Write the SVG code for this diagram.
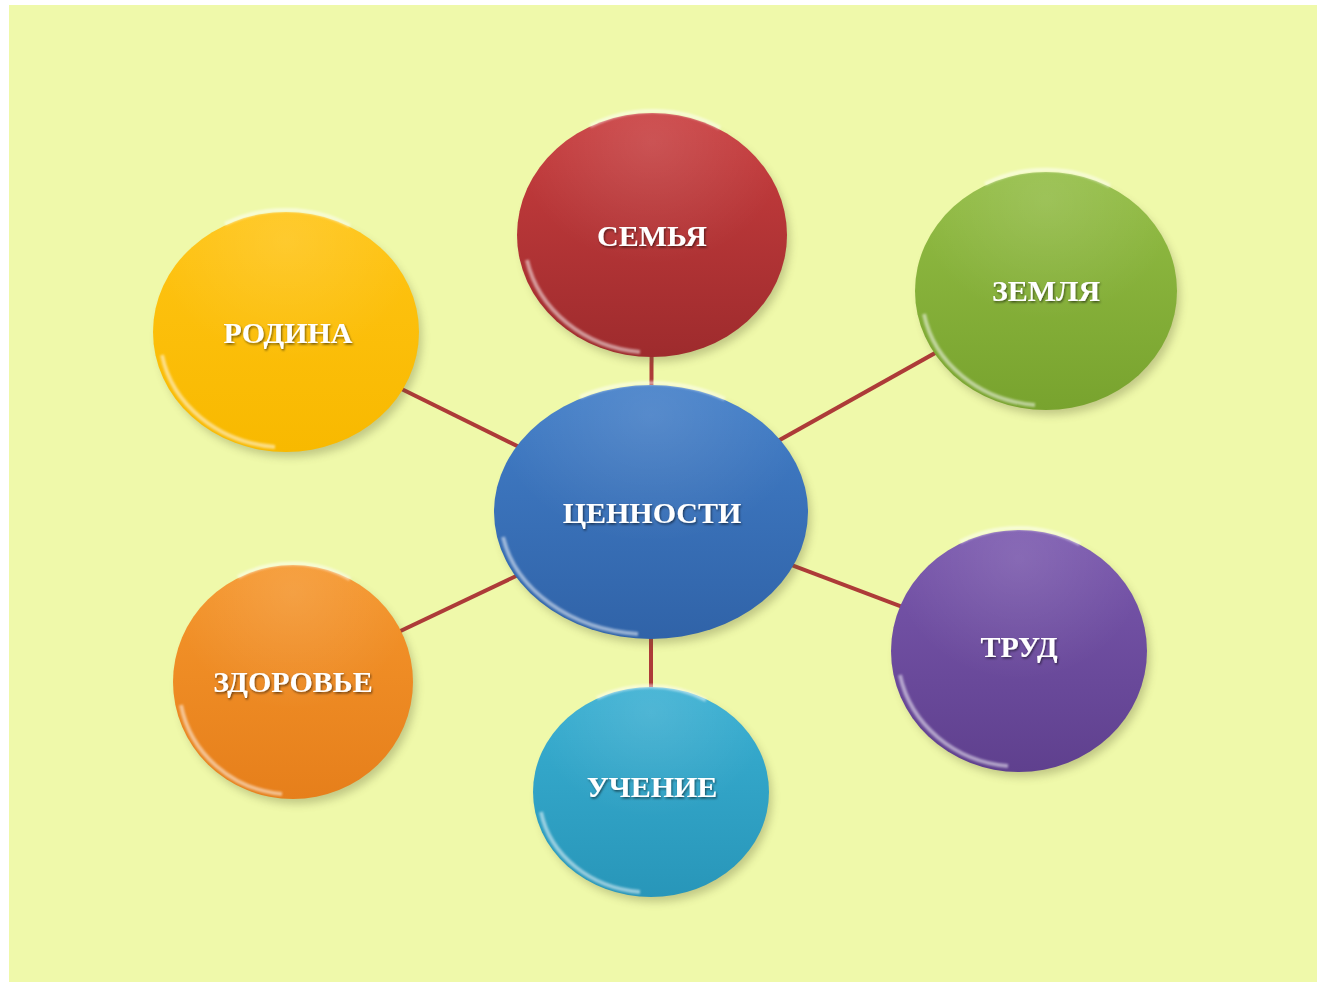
<svg xmlns="http://www.w3.org/2000/svg" width="1317" height="982" viewBox="0 0 1317 982">
<defs>
<style>
.lbl{font-family:"Liberation Serif","DejaVu Serif",serif;font-weight:bold;font-size:30px;fill:#ffffff;text-anchor:middle;filter:url(#ts)}
.conn{stroke:#ad3b38;stroke-width:4;fill:none}
.rim{fill:none;stroke:#ffffff;stroke-opacity:0.5;stroke-width:4;filter:url(#soft)}
.shade{fill:#5a5a30;opacity:0.3;filter:url(#blur)}
</style>
<filter id="blur" x="-20%" y="-20%" width="140%" height="140%"><feGaussianBlur stdDeviation="4"/></filter>
<filter id="soft" x="-20%" y="-20%" width="140%" height="140%"><feGaussianBlur stdDeviation="1.2"/></filter>
<filter id="ts" x="-10%" y="-30%" width="120%" height="160%"><feDropShadow dx="1" dy="1.5" stdDeviation="1" flood-color="#000" flood-opacity="0.55"/></filter>
<linearGradient id="gRed" x1="0" y1="0" x2="0" y2="1"><stop offset="0" stop-color="#c93e3f"/><stop offset="1" stop-color="#9e2b2d"/></linearGradient>
<linearGradient id="gYel" x1="0" y1="0" x2="0" y2="1"><stop offset="0" stop-color="#ffc414"/><stop offset="1" stop-color="#f8b900"/></linearGradient>
<linearGradient id="gGrn" x1="0" y1="0" x2="0" y2="1"><stop offset="0" stop-color="#93bd45"/><stop offset="1" stop-color="#78a32e"/></linearGradient>
<linearGradient id="gBlu" x1="0" y1="0" x2="0" y2="1"><stop offset="0" stop-color="#427ec8"/><stop offset="1" stop-color="#3063a8"/></linearGradient>
<linearGradient id="gPur" x1="0" y1="0" x2="0" y2="1"><stop offset="0" stop-color="#7a58ae"/><stop offset="1" stop-color="#5f408e"/></linearGradient>
<linearGradient id="gOrg" x1="0" y1="0" x2="0" y2="1"><stop offset="0" stop-color="#f5962c"/><stop offset="1" stop-color="#e67f1b"/></linearGradient>
<linearGradient id="gCya" x1="0" y1="0" x2="0" y2="1"><stop offset="0" stop-color="#39afd2"/><stop offset="1" stop-color="#2896b9"/></linearGradient>
<radialGradient id="gloss" cx="0.5" cy="0.12" r="0.5"><stop offset="0" stop-color="#ffffff" stop-opacity="0.12"/><stop offset="1" stop-color="#ffffff" stop-opacity="0"/></radialGradient>
</defs>
<rect x="0" y="0" width="1317" height="982" fill="#ffffff"/>
<rect x="9" y="5" width="1308" height="977" fill="#eff9aa"/>
<g id="connectors">
<line class="conn" x1="651" y1="512" x2="652" y2="235"/>
<line class="conn" x1="651" y1="512" x2="1046" y2="291"/>
<line class="conn" x1="651" y1="512" x2="286" y2="332"/>
<line class="conn" x1="651" y1="512" x2="1019" y2="651"/>
<line class="conn" x1="651" y1="512" x2="293" y2="682"/>
<line class="conn" x1="651" y1="512" x2="651" y2="792"/>
</g>
<g id="node-semya">
<ellipse class="shade" cx="656" cy="241" rx="134" ry="121"/>
<ellipse cx="652" cy="235" rx="135" ry="122" fill="url(#gRed)"/>
<ellipse cx="652" cy="235" rx="135" ry="122" fill="url(#gloss)"/>
<path class="rim" d="M527 260 A128 116 0 0 0 640 352"/>
<path class="rim" d="M590 126 A128 116 0 0 1 720 128" stroke-opacity="0.25"/>
<text class="lbl" x="652" y="246">СЕМЬЯ</text>
</g>
<g id="node-rodina">
<ellipse class="shade" cx="290" cy="338" rx="132" ry="119"/>
<ellipse cx="286" cy="332" rx="133" ry="120" fill="url(#gYel)"/>
<ellipse cx="286" cy="332" rx="133" ry="120" fill="url(#gloss)"/>
<path class="rim" d="M162 355 A126 113 0 0 0 275 447"/>
<path class="rim" d="M225 224 A126 113 0 0 1 350 226" stroke-opacity="0.25"/>
<text class="lbl" x="288" y="343">РОДИНА</text>
</g>
<g id="node-zemlya">
<ellipse class="shade" cx="1050" cy="297" rx="130" ry="118"/>
<ellipse cx="1046" cy="291" rx="131" ry="119" fill="url(#gGrn)"/>
<ellipse cx="1046" cy="291" rx="131" ry="119" fill="url(#gloss)"/>
<path class="rim" d="M924 314 A124 112 0 0 0 1035 405"/>
<path class="rim" d="M985 184 A124 112 0 0 1 1110 186" stroke-opacity="0.25"/>
<text class="lbl" x="1046" y="301">ЗЕМЛЯ</text>
</g>
<g id="node-cennosti">
<ellipse class="shade" cx="655" cy="518" rx="156" ry="126"/>
<ellipse cx="651" cy="512" rx="157" ry="127" fill="url(#gBlu)"/>
<ellipse cx="651" cy="512" rx="157" ry="127" fill="url(#gloss)"/>
<path class="rim" d="M503 537 A150 120 0 0 0 638 634"/>
<path class="rim" d="M580 397 A150 120 0 0 1 725 399" stroke-opacity="0.25"/>
<text class="lbl" x="652" y="523">ЦЕННОСТИ</text>
</g>
<g id="node-trud">
<ellipse class="shade" cx="1023" cy="657" rx="127" ry="120"/>
<ellipse cx="1019" cy="651" rx="128" ry="121" fill="url(#gPur)"/>
<ellipse cx="1019" cy="651" rx="128" ry="121" fill="url(#gloss)"/>
<path class="rim" d="M900 675 A121 114 0 0 0 1008 766"/>
<path class="rim" d="M960 542 A121 114 0 0 1 1080 544" stroke-opacity="0.25"/>
<text class="lbl" x="1019" y="657">ТРУД</text>
</g>
<g id="node-zdorovye">
<ellipse class="shade" cx="297" cy="688" rx="119" ry="116"/>
<ellipse cx="293" cy="682" rx="120" ry="117" fill="url(#gOrg)"/>
<ellipse cx="293" cy="682" rx="120" ry="117" fill="url(#gloss)"/>
<path class="rim" d="M181 705 A113 110 0 0 0 282 794"/>
<path class="rim" d="M238 577 A113 110 0 0 1 350 579" stroke-opacity="0.25"/>
<text class="lbl" x="293" y="692">ЗДОРОВЬЕ</text>
</g>
<g id="node-uchenie">
<ellipse class="shade" cx="655" cy="798" rx="117" ry="104"/>
<ellipse cx="651" cy="792" rx="118" ry="105" fill="url(#gCya)"/>
<ellipse cx="651" cy="792" rx="118" ry="105" fill="url(#gloss)"/>
<path class="rim" d="M541 812 A111 98 0 0 0 640 892"/>
<path class="rim" d="M597 698 A111 98 0 0 1 706 700" stroke-opacity="0.25"/>
<text class="lbl" x="652" y="797">УЧЕНИЕ</text>
</g>
</svg>
